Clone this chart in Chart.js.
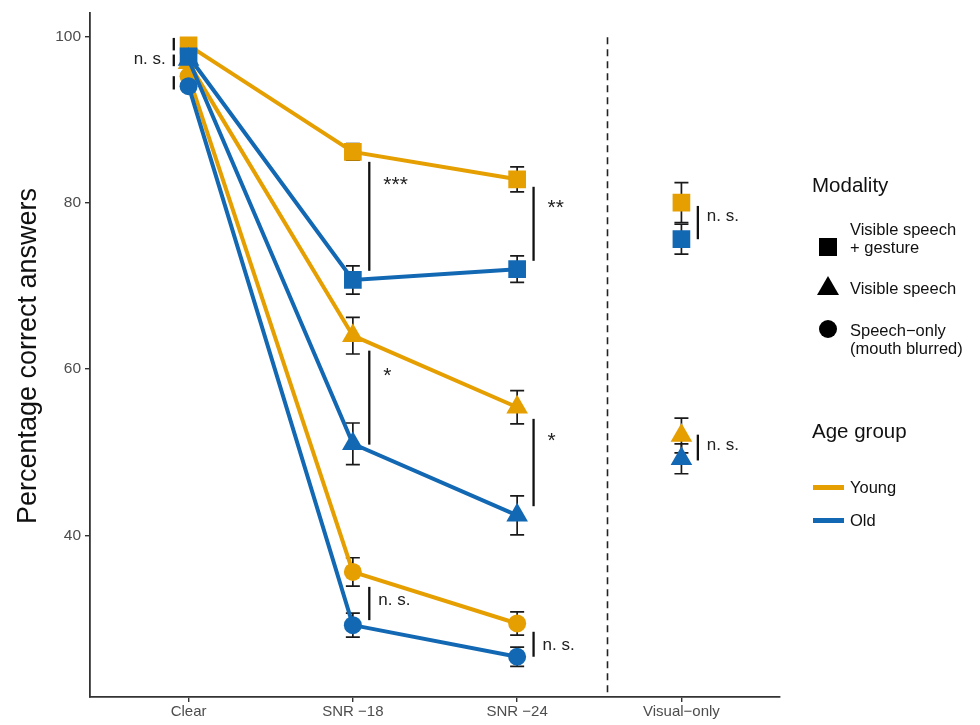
<!DOCTYPE html>
<html>
<head>
<meta charset="utf-8">
<script src="https://cdn.jsdelivr.net/npm/chart.js@4.4.1/dist/chart.umd.min.js"></script>
<style>
html, body { margin: 0; padding: 0; background: #fff; }
#wrap { width: 980px; height: 725px; position: relative; }
</style>
</head>
<body>
<div id="wrap"><canvas id="myChart" width="980" height="725"></canvas></div>
<script>
// categories on the x axis
var categories = ["Clear", "SNR \u221218", "SNR \u221224", "Visual\u2212only"];
var yTicks = [40, 60, 80, 100];

// mean percentage correct, per modality and age group
var youngGesture = [98.9, 86.1, 82.8, 80.0];
var oldGesture   = [97.6, 70.7, 72.0, 75.6];
var youngVisible = [96.8, 64.0, 55.4, 52.0];
var oldVisible   = [97.2, 51.0, 42.4, 49.2];
var youngSpeech  = [95.2, 35.6, 29.4];
var oldSpeech    = [94.0, 29.2, 25.4];

// error bar half widths
var youngGestureErr = [0.5, 1.0, 1.5, 2.4];
var oldGestureErr   = [0.5, 1.7, 1.6, 1.8];
var youngVisibleErr = [0.5, 2.2, 2.0, 2.1];
var oldVisibleErr   = [0.5, 2.5, 2.35, 1.8];
var youngSpeechErr  = [0.5, 1.7, 1.4];
var oldSpeechErr    = [0.5, 1.45, 1.15];

// significance brackets (x in category units, y in percent)
var sigX     = [0.91, 0.91, 0.91, 2.1, 2.1, 2.1, 3.1, 3.1, 3.1, 4.1, 4.1];
var sigLow   = [98.3, 96.4, 93.6, 71.8, 50.9, 29.8, 73.0, 43.5, 25.4, 75.6, 49.0];
var sigHigh  = [99.8, 97.8, 95.2, 84.9, 62.2, 33.8, 81.9, 54.0, 28.4, 79.6, 52.1];
var sigText  = ["", "n. s.", "", "***", "*", "n. s.", "**", "*", "n. s.", "n. s.", "n. s."];
var sigTextY = [0, 97.2, 0, 82.6, 59.6, 32.2, 79.8, 51.8, 26.8, 78.4, 50.8];
var dividerX = 3.55;

var orange = "#E69F00";
var blue = "#1268B3";

function toPoints(arr) {
    return arr.map(function(v, i){ return {x: i + 1, y: v}; });
}

function makeSet(label, arr, color, style, radius, order) {
    return {
        label: label,
        data: toPoints(arr),
        borderColor: color,
        backgroundColor: color,
        borderWidth: 4,
        pointStyle: style,
        pointRadius: radius,
        pointBorderWidth: 0,
        pointBackgroundColor: color,
        order: order,
        segment: {
            borderColor: function(c){ return c.p1DataIndex === 3 ? "rgba(0,0,0,0)" : color; }
        }
    };
}

var datasets = [
    makeSet("Young gesture", youngGesture, orange, "rect", 12.5, 2),
    makeSet("Young visible", youngVisible, orange, "triangle", 12.5, 2),
    makeSet("Young speech", youngSpeech, orange, "circle", 9, 2),
    makeSet("Old gesture", oldGesture, blue, "rect", 12.5, 1),
    makeSet("Old visible", oldVisible, blue, "triangle", 12.5, 1),
    makeSet("Old speech", oldSpeech, blue, "circle", 9, 1)
];
var errs = [youngGestureErr, youngVisibleErr, youngSpeechErr, oldGestureErr, oldVisibleErr, oldSpeechErr];

var FONT = "'Liberation Sans', Arial, sans-serif";

var extras = {
    id: "extras",
    beforeDatasetsDraw: function(chart){
        var ctx = chart.ctx, x = chart.scales.x, y = chart.scales.y, a = chart.chartArea;
        var px = x.getPixelForValue(dividerX);
        ctx.save();
        ctx.strokeStyle = "#222";
        ctx.lineWidth = 1.6;
        ctx.setLineDash([7, 5]);
        ctx.beginPath();
        ctx.moveTo(px, a.top + 24);
        ctx.lineTo(px, a.bottom);
        ctx.stroke();
        ctx.setLineDash([]);
        // error bars, under the markers
        ctx.strokeStyle = "#1a1a1a";
        ctx.lineWidth = 1.7;
        datasets.forEach(function(ds, d){
            ds.data.forEach(function(p, i){
                var e = errs[d][i];
                var cx = x.getPixelForValue(p.x);
                var y1 = y.getPixelForValue(p.y + e), y2 = y.getPixelForValue(p.y - e);
                ctx.beginPath();
                ctx.moveTo(cx, y1); ctx.lineTo(cx, y2);
                ctx.moveTo(cx - 7, y1); ctx.lineTo(cx + 7, y1);
                ctx.moveTo(cx - 7, y2); ctx.lineTo(cx + 7, y2);
                ctx.stroke();
            });
        });
        ctx.restore();
    },
    afterDatasetsDraw: function(chart){
        var ctx = chart.ctx, x = chart.scales.x, y = chart.scales.y;
        ctx.save();
        // significance brackets
        ctx.strokeStyle = "#111";
        ctx.lineWidth = 2.3;
        ctx.fillStyle = "#222";
        sigX.forEach(function(sx, i){
            var cx = x.getPixelForValue(sx);
            ctx.beginPath();
            ctx.moveTo(cx, y.getPixelForValue(sigHigh[i]));
            ctx.lineTo(cx, y.getPixelForValue(sigLow[i]));
            ctx.stroke();
            var t = sigText[i];
            if (!t) return;
            var ty = y.getPixelForValue(sigTextY[i]);
            ctx.textBaseline = "middle";
            if (t.indexOf("*") === 0) {
                ctx.font = "21px " + FONT;
                ctx.textAlign = "left";
                ctx.fillText(t, cx + 14, ty + 4);
            } else {
                ctx.font = "17px " + FONT;
                if (sx < 1) {
                    ctx.textAlign = "right";
                    ctx.fillText(t, cx - 8, ty);
                } else {
                    ctx.textAlign = "left";
                    ctx.fillText(t, cx + 9, ty);
                }
            }
        });
        ctx.restore();
    },
    afterDraw: function(chart){
        var ctx = chart.ctx;
        ctx.save();
        // y title
        ctx.translate(29, 356);
        ctx.rotate(-Math.PI / 2);
        ctx.fillStyle = "#111";
        ctx.font = "27px " + FONT;
        ctx.textAlign = "center";
        ctx.textBaseline = "middle";
        ctx.fillText("Percentage correct answers", 0, 0);
        ctx.restore();

        // legend
        ctx.save();
        ctx.fillStyle = "#111";
        ctx.textBaseline = "middle";
        ctx.textAlign = "left";
        ctx.font = "20.5px " + FONT;
        ctx.fillText("Modality", 812, 186);
        ctx.fillText("Age group", 812, 432);
        ctx.font = "16.5px " + FONT;
        ctx.fillText("Visible speech", 850, 230);
        ctx.fillText("+ gesture", 850, 248);
        ctx.fillText("Visible speech", 850, 289);
        ctx.fillText("Speech\u2212only", 850, 331);
        ctx.fillText("(mouth blurred)", 850, 349);
        ctx.fillText("Young", 850, 488);
        ctx.fillText("Old", 850, 521);
        ctx.fillStyle = "#000";
        ctx.fillRect(819, 238, 18, 18);
        ctx.beginPath();
        ctx.moveTo(828, 276); ctx.lineTo(839, 295); ctx.lineTo(817, 295); ctx.closePath();
        ctx.fill();
        ctx.beginPath();
        ctx.arc(828, 329, 9, 0, Math.PI * 2);
        ctx.fill();
        ctx.fillStyle = orange;
        ctx.fillRect(813, 485, 31, 5);
        ctx.fillStyle = blue;
        ctx.fillRect(813, 518, 31, 5);
        ctx.restore();
    }
};

var ctx = document.getElementById("myChart").getContext("2d");
var myChart = new Chart(ctx, {
    type: "line",
    data: { datasets: datasets },
    plugins: [extras],
    options: {
        responsive: false,
        animation: false,
        layout: { padding: { top: 12, right: 200, left: 0, bottom: 0 } },
        plugins: { legend: { display: false }, tooltip: { enabled: false } },
        scales: {
            x: {
                type: "linear",
                min: 0.4,
                max: 4.6,
                afterBuildTicks: function(s){ s.ticks = categories.map(function(c, i){ return {value: i + 1}; }); },
                afterFit: function(s){ s.height = 28; },
                ticks: {
                    callback: function(v){ return categories[v - 1]; },
                    color: "#4d4d4d",
                    font: { family: FONT, size: 15 },
                    padding: 1,
                    maxRotation: 0
                },
                grid: { drawOnChartArea: false, tickLength: 5, color: "#333", lineWidth: 1.4 },
                border: { color: "#333", width: 1.8 }
            },
            y: {
                min: 20.56,
                max: 102.76,
                afterBuildTicks: function(s){ s.ticks = yTicks.map(function(v){ return {value: v}; }); },
                afterFit: function(s){ s.width = 90; },
                ticks: {
                    color: "#4d4d4d",
                    font: { family: FONT, size: 15.5 },
                    padding: 4
                },
                grid: { drawOnChartArea: false, tickLength: 5, color: "#333", lineWidth: 1.4 },
                border: { color: "#333", width: 1.8 }
            }
        }
    }
});
</script>
</body>
</html>
